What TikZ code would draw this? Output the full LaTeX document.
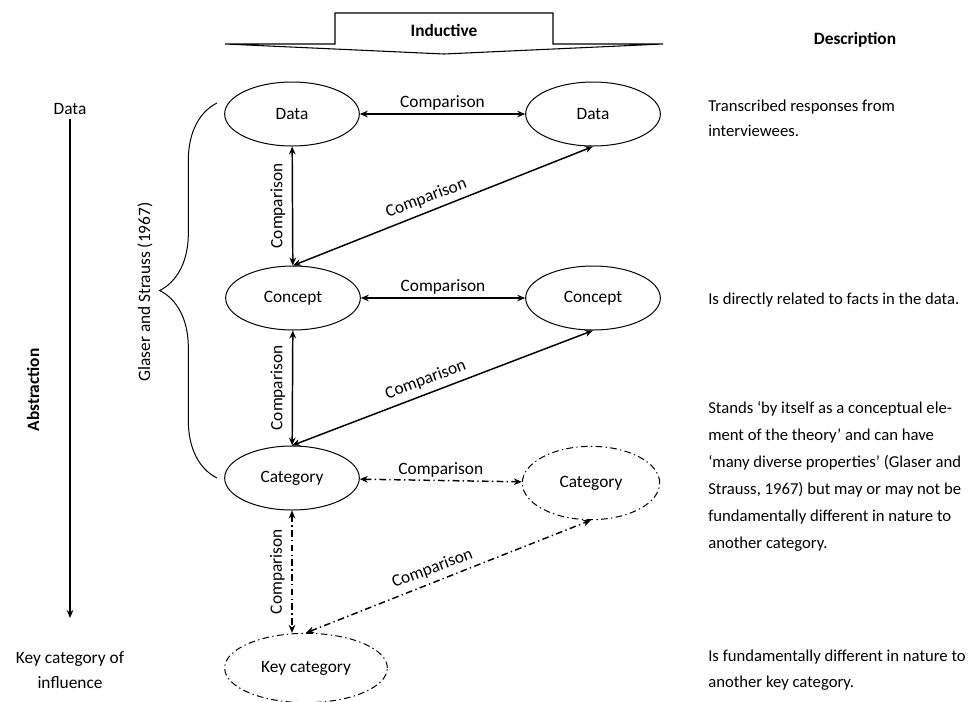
\documentclass[tikz,border=0pt]{standalone}
\usepackage{fontspec}
\setmainfont{Carlito}
\usetikzlibrary{shapes.geometric,arrows.meta,decorations.pathreplacing}

\tikzset{
  stage/.style={draw, ellipse, line width=0.75pt, minimum width=101pt, minimum height=48pt, inner sep=0pt},
  stagedd/.style={stage, dash pattern=on 5pt off 2.5pt on 1pt off 2.5pt},
  cmp/.style={line width=1.1pt, {Stealth[length=6pt,width=5pt]}-{Stealth[length=6pt,width=5pt]}},
  cmpdd/.style={cmp, dash pattern=on 5pt off 2.5pt on 1pt off 2.5pt},
  cmplbl/.style={inner sep=2pt},
  cmpup/.style={inner sep=5pt, rotate=90, anchor=south},
  cmpdiag/.style={inner sep=4pt, rotate=20.5, anchor=south, pos=0.46},
  desc/.style={anchor=west, align=left, inner sep=0pt, font=\fontsize{12.5}{20.25}\selectfont},
  hdr/.style={font=\fontsize{13}{16}\selectfont\bfseries}
}

\begin{document}
\begin{tikzpicture}[x=0.75pt,y=0.75pt,yscale=-1,xscale=1, font=\fontsize{13}{16}\selectfont]
\useasboundingbox (0,0) rectangle (972,701);

%Shape: Inductive arrow
\draw [line width=0.8pt, line join=miter] (225,44) -- (335,44) -- (335,13) -- (553,13) -- (553,44) -- (663,44) -- (444,54) -- cycle ;
% Text Node
\node [hdr] (induct) at (444,30) {Inductive};
% Text Node
\node [hdr] (descr) at (855,40) {Description};

%Ellipses
\node [stage] (d1) at (292,114) {Data};
\node [stage] (d2) at (593,114) {Data};
\node [stage] (c1) at (293,298) {Concept};
\node [stage] (c2) at (593,298) {Concept};
\node [stage] (g1) at (292,478) {Category};
\node [stagedd, minimum width=103pt, minimum height=55pt] (g2) at (591,483) {Category};
\node [stagedd, minimum width=122pt, minimum height=52pt] (k) at (306,668) {Key category};

%Comparisons
\draw [cmp] (d1) -- node [cmplbl, above] {Comparison} (d2) ;
\draw [cmp] (d1) -- node [cmpup] {Comparison} (c1) ;
\draw [cmp] (c1.north) -- node [cmpdiag] {Comparison} (d2.south) ;
\draw [cmp] (c1) -- node [cmplbl, above] {Comparison} (c2) ;
\draw [cmp] (c1) -- node [cmpup] {Comparison} (g1) ;
\draw [cmp] (g1.north) -- node [cmpdiag] {Comparison} (c2.south) ;
\draw [cmpdd] (g1) -- node [cmplbl, above] {Comparison} (g2) ;
\draw [cmpdd] (g1.south) -- node [cmpup] {Comparison} (g1.south |- k.north) ;
\draw [cmpdd] (k.north) -- node [cmpdiag] {Comparison} (g2.south) ;

%Abstraction axis
\node (ldata) at (70,109) {Data};
\node [align=center, font=\fontsize{13}{18.75}\selectfont] (lkey) at (70,670) {Key category of\\influence};
\coordinate (lend) at (70,618);
\draw [line width=1.1pt, -{Stealth[length=6pt,width=5pt]}] (ldata) -- (lend) ;
\node [hdr, rotate=90] (abstr) at (33,390) {Abstraction};

%Brace
\draw [line width=0.75pt, decorate, decoration={brace, amplitude=43pt}] (217,478) -- (217,103) ;
\node [rotate=90] (glaser) at (145,292) {Glaser and Strauss (1967)};

%Descriptions
\node [desc, font=\fontsize{12.5}{19}\selectfont] (t1) at (708,118) {Transcribed responses from\\interviewees.};
\node [desc] (t2) at (708,300) {Is directly related to facts in the data.};
\node [desc] (t3) at (708,476) {Stands ‘by itself as a conceptual ele-\\ment of the theory’ and can have\\‘many diverse properties’ (Glaser and\\Strauss, 1967) but may or may not be\\fundamentally different in nature to\\another category.};
\node [desc, font=\fontsize{12.5}{19}\selectfont] (t4) at (708,670) {Is fundamentally different in nature to\\another key category.};

\end{tikzpicture}
\end{document}
